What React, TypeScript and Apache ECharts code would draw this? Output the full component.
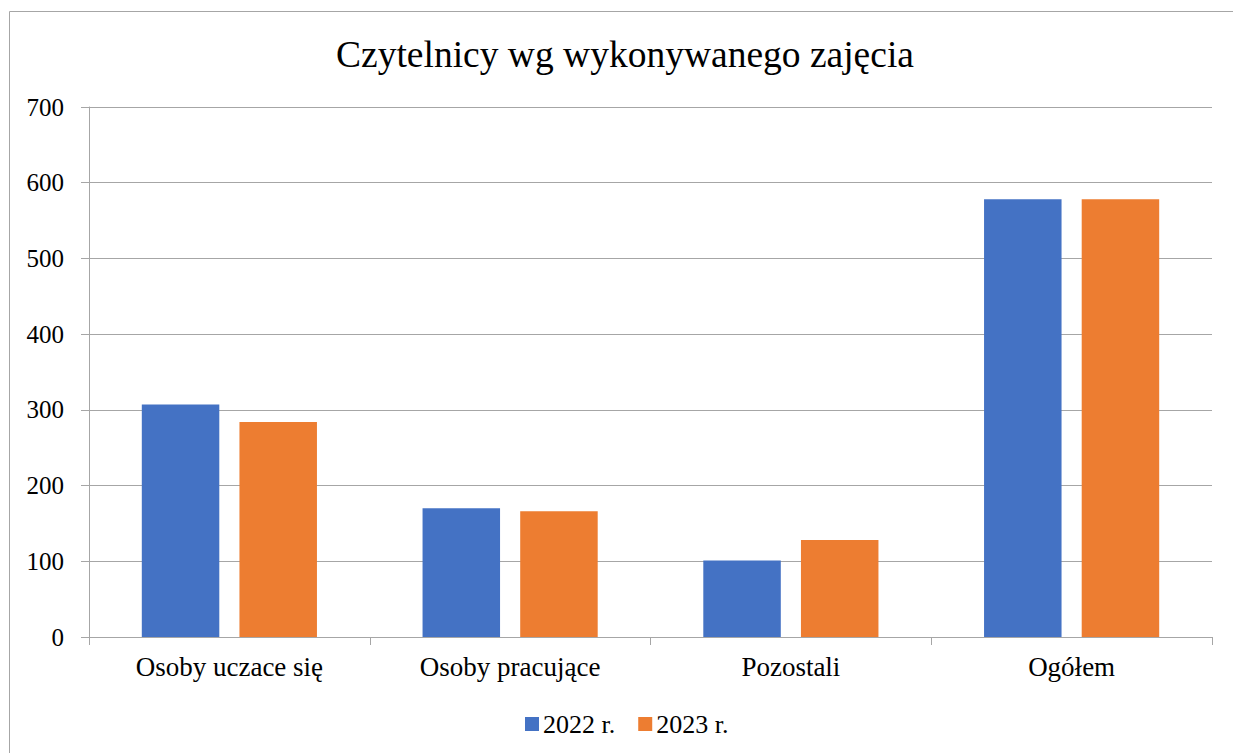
import React, { useEffect, useRef } from "react";
import * as echarts from "echarts";

const categories = ["Osoby uczace się", "Osoby pracujące", "Pozostali", "Ogółem"];
const values2022 = [307, 170, 101, 578];
const values2023 = [284, 166, 128, 578];
const seriesNames = ["2022 r.", "2023 r."];
const titleText = "Czytelnicy wg wykonywanego zajęcia";

const FONT = "Liberation Serif";

export default function App() {
  const ref = useRef<HTMLDivElement>(null);
  useEffect(() => {
    if (!ref.current) return;
    const chart = echarts.init(ref.current, undefined, { renderer: "svg" });
    chart.setOption({
      animation: false,
      backgroundColor: "#ffffff",
      textStyle: { fontFamily: FONT },
      title: {
        text: titleText,
        left: 620,
        textAlign: "center",
        top: 30,
        textStyle: { fontFamily: FONT, fontSize: 37.5, fontWeight: "normal", color: "#000" },
      },
      graphic: [
        {
          type: "rect",
          shape: { x: 9.5, y: 11.5, width: 1300, height: 800 },
          style: { fill: "none", stroke: "#a6a6a6", lineWidth: 1 },
          silent: true,
        },
      ],
      legend: {
        left: 520,
        top: 706,
        itemWidth: 14,
        itemHeight: 14,
        itemGap: 23,
        icon: "rect",
        textStyle: { fontFamily: FONT, fontSize: 26, color: "#000", padding: [0, 0, 0, -1] },
        data: seriesNames,
      },
      grid: { left: 89, right: 21, top: 107, bottom: 116, containLabel: false },
      xAxis: {
        type: "category",
        data: categories,
        axisLine: { show: true, lineStyle: { color: "#a6a6a6", width: 1 } },
        axisTick: { show: true, length: 8, lineStyle: { color: "#a6a6a6" } },
        axisLabel: { fontFamily: FONT, fontSize: 27, color: "#000", margin: 16 },
      },
      yAxis: {
        type: "value",
        min: 0,
        max: 700,
        interval: 100,
        axisLine: { show: true, lineStyle: { color: "#a6a6a6", width: 1 } },
        axisTick: { show: true, length: 8, lineStyle: { color: "#a6a6a6" } },
        axisLabel: { fontFamily: FONT, fontSize: 25, color: "#000", margin: 25 },
        splitLine: { show: true, lineStyle: { color: "#a6a6a6", width: 1 } },
      },
      series: [
        {
          name: seriesNames[0],
          type: "bar",
          data: values2022,
          barWidth: 77.5,
          barGap: "26%",
          itemStyle: { color: "#4472C4" },
        },
        {
          name: seriesNames[1],
          type: "bar",
          data: values2023,
          barWidth: 77.5,
          barGap: "26%",
          itemStyle: { color: "#ED7D31" },
        },
      ],
    });
    return () => chart.dispose();
  }, []);
  return (
    <div
      ref={ref}
      style={{ position: "fixed", left: 0, top: 0, width: 1233, height: 753 }}
    />
  );
}
